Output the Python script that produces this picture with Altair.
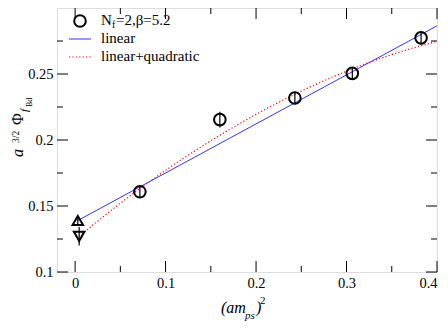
import altair as alt
import pandas as pd

# ---- data ----
circ_x = [0.0716, 0.160, 0.2429, 0.3064, 0.3824]
circ_y = [0.1608, 0.2154, 0.2318, 0.2505, 0.2774]
circ_e = [0.0044, 0.0060, 0.0048, 0.0044, 0.0050]

up_x = [0.003]
up_y = [0.139]
up_e = [0.003]

dn_x = [0.0045]
dn_y = [0.127]
dn_e = [0.007]

lin_x = [0.003, 0.4]
lin_y = [0.139, 0.2865]

quad_x = [0.0045, 0.05, 0.1, 0.15, 0.2, 0.25, 0.3, 0.35, 0.4]
quad_y = [0.127, 0.1521, 0.1770, 0.1994, 0.2194, 0.2370, 0.2521, 0.2647, 0.2748]

x_major = [0, 0.1, 0.2, 0.3, 0.4]
x_minor = [0.05, 0.15, 0.25, 0.35]
y_major = [0.1, 0.15, 0.2, 0.25]
y_minor = [0.125, 0.175, 0.225, 0.275]

legend_labels = ["N", "f", "=2,β=5.2", "linear", "linear+quadratic"]

W, H = 380, 264
FONT = "Liberation Serif"

xs = alt.Scale(domain=[-0.02, 0.4], nice=False, zero=False)
ys = alt.Scale(domain=[0.1, 0.3], nice=False, zero=False)
xax = alt.Axis(values=x_major, format="~g", ticks=False, tickSize=0, domain=False, grid=False,
               labelPadding=4, labelFontSize=14.5, labelFont=FONT, labelColor="black", title=None)
yax = alt.Axis(values=y_major, format="~g", ticks=False, tickSize=0, domain=False, grid=False,
               labelPadding=4, labelFontSize=14.5, labelFont=FONT, labelColor="black", title=None)

def X(f="x"):
    return alt.X(f"{f}:Q", scale=xs, axis=xax)

def Y(f="y"):
    return alt.Y(f"{f}:Q", scale=ys, axis=yax)

def with_err(xv, yv, ev):
    return pd.DataFrame({"x": xv, "y": yv,
                         "lo": [a - b for a, b in zip(yv, ev)],
                         "hi": [a + b for a, b in zip(yv, ev)]})

circ = with_err(circ_x, circ_y, circ_e)
up = with_err(up_x, up_y, up_e)
dn = with_err(dn_x, dn_y, dn_e)
lin = pd.DataFrame({"x": lin_x, "y": lin_y})
quad = pd.DataFrame({"x": quad_x, "y": quad_y})

layers = []
# fits
layers.append(alt.Chart(lin).mark_line(color="#3333ff", strokeWidth=1).encode(x=X(), y=Y()))
layers.append(alt.Chart(quad).mark_line(color="#ff0000", strokeWidth=1.2, strokeDash=[1.2, 2.2],
                                         interpolate="monotone").encode(x=X(), y=Y()))
# error bars and points
for df, shape in [(circ, "circle"), (up, "triangle-up"), (dn, "triangle-down")]:
    layers.append(alt.Chart(df).mark_rule(color="black", strokeWidth=1.2).encode(
        x=X(), y=alt.Y("lo:Q", scale=ys, axis=yax), y2="hi:Q"))
    layers.append(alt.Chart(df).mark_point(shape=shape, filled=False, color="black", opacity=1,
                                           strokeWidth=2, size=135 if shape == "circle" else 110).encode(x=X(), y=Y()))

# inward ticks on all four sides
for vals, ln in [(x_major, 11), (x_minor, 6)]:
    d = pd.DataFrame({"x": vals})
    layers.append(alt.Chart(d).mark_rule(color="black").encode(x=X(), y=alt.value(H), y2=alt.value(H - ln)))
    layers.append(alt.Chart(d).mark_rule(color="black").encode(x=X(), y=alt.value(0), y2=alt.value(ln)))
for vals, ln in [(y_major, 11), (y_minor, 6)]:
    d = pd.DataFrame({"y": vals})
    layers.append(alt.Chart(d).mark_rule(color="black").encode(y=Y(), x=alt.value(0), x2=alt.value(ln)))
    layers.append(alt.Chart(d).mark_rule(color="black").encode(y=Y(), x=alt.value(W), x2=alt.value(W - ln)))

def txt(s, x, y, size, style="normal", angle=0, align="left", color="black"):
    return alt.Chart(pd.DataFrame({"t": [s]})).mark_text(
        align=align, baseline="alphabetic", font=FONT, fontSize=size, fontStyle=style,
        angle=angle, color=color).encode(text="t:N", x=alt.value(x), y=alt.value(y))

# legend
layers.append(alt.Chart(pd.DataFrame({"t": [0]})).mark_point(shape="circle", filled=False, color="black", opacity=1,
                                                             strokeWidth=2, size=135).encode(x=alt.value(23), y=alt.value(13)))
layers.append(alt.Chart(pd.DataFrame({"t": [0]})).mark_rule(color="#3333ff", strokeWidth=1).encode(
    x=alt.value(12), x2=alt.value(34), y=alt.value(31)))
layers.append(alt.Chart(pd.DataFrame({"t": [0]})).mark_rule(color="#ff0000", strokeWidth=1.2, strokeDash=[1.2, 2.2]).encode(
    x=alt.value(12), x2=alt.value(34), y=alt.value(49)))
layers.append(txt(legend_labels[0], 44, 17, 15))
layers.append(txt(legend_labels[1], 55, 20, 10))
layers.append(txt(legend_labels[2], 59, 17, 15))
layers.append(txt(legend_labels[3], 44, 35, 15))
layers.append(txt(legend_labels[4], 44, 53, 15))

# x title: (am_ps)^2
layers.append(txt("(am", 164, 305, 16, "italic"))
layers.append(txt("ps", 188, 311, 11, "italic"))
layers.append(txt(")", 199, 305, 16, "italic"))
layers.append(txt("2", 203, 296, 11))

# y title: a^{3/2} Φ_{f_Bd}
layers.append(txt("a", -34.5, 149, 16, "italic", angle=270))
layers.append(txt("3/2", -38.5, 135, 9.5, angle=270))
layers.append(txt("Φ", -34.5, 117, 16, angle=270))
layers.append(txt("f", -29, 104, 11, "italic", angle=270))
layers.append(txt("Bd", -25, 99, 8, angle=270))

chart = alt.layer(*layers).properties(
    width=W, height=H,
    autosize=alt.AutoSizeParams(type="none"),
    padding={"left": 49, "top": 0, "right": 3, "bottom": 52},
).configure_view(stroke="black", strokeWidth=1).configure_axis(
    labelFont=FONT, labelFontSize=14.5, labelColor="black"
).configure_text(font=FONT).configure(background="white")

chart.save("out.html", embed_options={"renderer": "svg", "actions": False})
